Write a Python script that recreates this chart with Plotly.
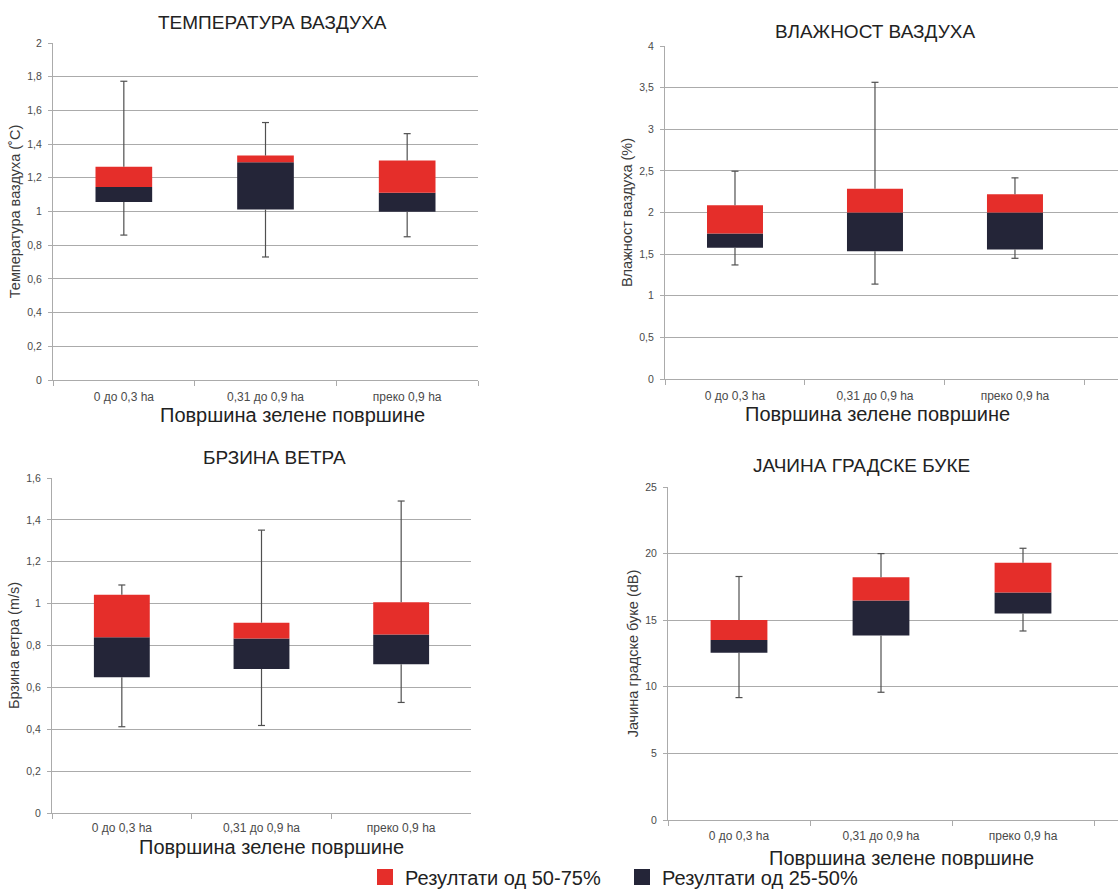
import plotly.graph_objects as go

categories = ["0 до 0,3 ha", "0,31 до 0,9 ha", "преко 0,9 ha"]

# Temperature (°C)
temp_min = [0.86, 0.73, 0.85]
temp_q1 = [1.057, 1.012, 0.998]
temp_med = [1.146, 1.292, 1.111]
temp_q3 = [1.265, 1.332, 1.302]
temp_max = [1.773, 1.528, 1.462]

# Humidity (%)
hum_min = [1.37, 1.14, 1.45]
hum_q1 = [1.576, 1.536, 1.556]
hum_med = [1.748, 2.0, 2.0]
hum_q3 = [2.088, 2.284, 2.22]
hum_max = [2.496, 3.564, 2.416]

# Wind speed (m/s)
wind_min = [0.412, 0.418, 0.528]
wind_q1 = [0.648, 0.688, 0.710]
wind_med = [0.839, 0.833, 0.852]
wind_q3 = [1.042, 0.909, 1.007]
wind_max = [1.089, 1.351, 1.490]

# Noise (dB)
noise_min = [9.19, 9.59, 14.19]
noise_q1 = [12.56, 13.86, 15.51]
noise_med = [13.51, 16.48, 17.08]
noise_q3 = [15.01, 18.23, 19.31]
noise_max = [18.28, 20.0, 20.40]

RED = "#E52E2A"
DARK = "#242538"
GRID = "#ABABAB"
WHISK = "#505050"
FONT = "Liberation Sans, Arial, sans-serif"

panels = [
    dict(mn=temp_min, q1=temp_q1, md=temp_med, q3=temp_q3, mx=temp_max,
         title="ТЕМПЕРАТУРА ВАЗДУХА", ytitle="Температура ваздуха (˚C)",
         yrange=[0, 2], dtick=0.2,
         xdom=[53 / 1118, 478 / 1118], ydom=[1 - 380 / 890, 1 - 43 / 890], xr=[-0.5, 2.5],
         tpos=(272, 23), xtpos=(292, 415), xstand=6),
    dict(mn=hum_min, q1=hum_q1, md=hum_med, q3=hum_q3, mx=hum_max,
         title="ВЛАЖНОСТ ВАЗДУХА", ytitle="Влажност ваздуха (%)",
         yrange=[0, 4], dtick=0.5,
         xdom=[665 / 1118, 1.0], ydom=[1 - 379 / 890, 1 - 46 / 890], xr=[-0.5, 2.736],
         tpos=(875, 32), xtpos=(877, 414), xstand=6),
    dict(mn=wind_min, q1=wind_q1, md=wind_med, q3=wind_q3, mx=wind_max,
         title="БРЗИНА ВЕТРА", ytitle="Брзина ветра (m/s)",
         yrange=[0, 1.6], dtick=0.2,
         xdom=[52 / 1118, 471 / 1118], ydom=[1 - 813 / 890, 1 - 478 / 890], xr=[-0.5, 2.5],
         tpos=(274, 457), xtpos=(271, 847), xstand=4),
    dict(mn=noise_min, q1=noise_q1, md=noise_med, q3=noise_q3, mx=noise_max,
         title="ЈАЧИНА ГРАДСКЕ БУКЕ", ytitle="Јачина градске буке (dB)",
         yrange=[0, 25], dtick=5,
         xdom=[668 / 1118, 1.0], ydom=[1 - 820 / 890, 1 - 487 / 890], xr=[-0.5, 2.669],
         tpos=(861, 465), xtpos=(901, 858), xstand=5),
]

fig = go.Figure()
annotations = []

for i, p in enumerate(panels):
    n = "" if i == 0 else str(i + 1)
    xa, ya = "x" + n, "y" + n
    # dark part: Q1 -> median
    fig.add_trace(go.Bar(x=categories, y=[m - q for m, q in zip(p["md"], p["q1"])], base=p["q1"],
                         marker=dict(color=DARK, line=dict(width=0)), width=0.4,
                         xaxis=xa, yaxis=ya, showlegend=False, hoverinfo="skip"))
    # red part: median -> Q3
    fig.add_trace(go.Bar(x=categories, y=[q - m for q, m in zip(p["q3"], p["md"])], base=p["md"],
                         marker=dict(color=RED, line=dict(width=0)), width=0.4,
                         xaxis=xa, yaxis=ya, showlegend=False, hoverinfo="skip"))
    # whisker stems (Q3 -> max, Q1 -> min)
    wx, wy = [], []
    for c, lo, q1, q3, hi in zip(categories, p["mn"], p["q1"], p["q3"], p["mx"]):
        wx += [c, c, None, c, c, None]
        wy += [q3, hi, None, q1, lo, None]
    fig.add_trace(go.Scatter(x=wx, y=wy, mode="lines", line=dict(color=WHISK, width=1.2),
                             xaxis=xa, yaxis=ya, showlegend=False, hoverinfo="skip"))
    # whisker caps
    fig.add_trace(go.Scatter(x=categories + categories, y=p["mx"] + p["mn"], mode="markers",
                             marker=dict(symbol="line-ew", size=5, color=WHISK,
                                         line=dict(width=1.2, color=WHISK)),
                             xaxis=xa, yaxis=ya, showlegend=False, hoverinfo="skip"))

    fig.layout["xaxis" + n] = dict(
        domain=p["xdom"], anchor=ya, type="category", range=p["xr"],
        showgrid=False, showline=True, linecolor=GRID, linewidth=1,
        ticks="outside", tickson="boundaries", ticklen=5, tickcolor=GRID,
        ticklabelstandoff=p["xstand"],
        tickfont=dict(family=FONT, size=12, color="#4a4a4a"), zeroline=False,
        fixedrange=True, automargin=False,
    )
    fig.layout["yaxis" + n] = dict(
        domain=p["ydom"], anchor=xa, range=p["yrange"], dtick=p["dtick"], tick0=0,
        showgrid=True, gridcolor=GRID, gridwidth=1, showline=True, linecolor=GRID,
        linewidth=1, ticks="outside", ticklen=4, tickcolor=GRID, zeroline=False,
        ticklabelstandoff=4,
        tickfont=dict(family=FONT, size=10.5, color="#4a4a4a"),
        title=dict(text=p["ytitle"], font=dict(family=FONT, size=14.5, color="#3a3a3a"), standoff=3),
        fixedrange=True, automargin=False,
    )
    annotations.append(dict(text=p["title"], x=p["tpos"][0] / 1118, y=1 - p["tpos"][1] / 890,
                            xref="paper", yref="paper", xanchor="center", yanchor="middle",
                            showarrow=False, font=dict(family=FONT, size=19, color="#222222")))
    annotations.append(dict(text="Површина зелене површине", x=p["xtpos"][0] / 1118,
                            y=1 - p["xtpos"][1] / 890,
                            xref="paper", yref="paper", xanchor="center", yanchor="middle",
                            showarrow=False, font=dict(family=FONT, size=20, color="#222222")))

# legend entries
fig.add_trace(go.Scatter(x=[None], y=[None], mode="markers", name="Резултати од 50-75%",
                         marker=dict(symbol="square", size=20, color=RED), showlegend=True))
fig.add_trace(go.Scatter(x=[None], y=[None], mode="markers", name="Резултати од 25-50%",
                         marker=dict(symbol="square", size=20, color=DARK), showlegend=True))

fig.update_layout(
    width=1118, height=890,
    margin=dict(l=0, r=0, t=0, b=0, autoexpand=False),
    paper_bgcolor="white", plot_bgcolor="white",
    barmode="overlay",
    separators=", ",
    annotations=annotations,
    font=dict(family=FONT),
    legend=dict(orientation="h", x=365 / 1118, xanchor="left", y=1 - 877 / 890, yanchor="middle",
                font=dict(family=FONT, size=20, color="#222222"), bgcolor="rgba(0,0,0,0)",
                itemsizing="trace", entrywidth=212, entrywidthmode="pixels"),
)

fig.write_html("out.html", config={"displayModeBar": False},
               post_script="document.body.style.margin='0';document.body.style.overflow='hidden';")
